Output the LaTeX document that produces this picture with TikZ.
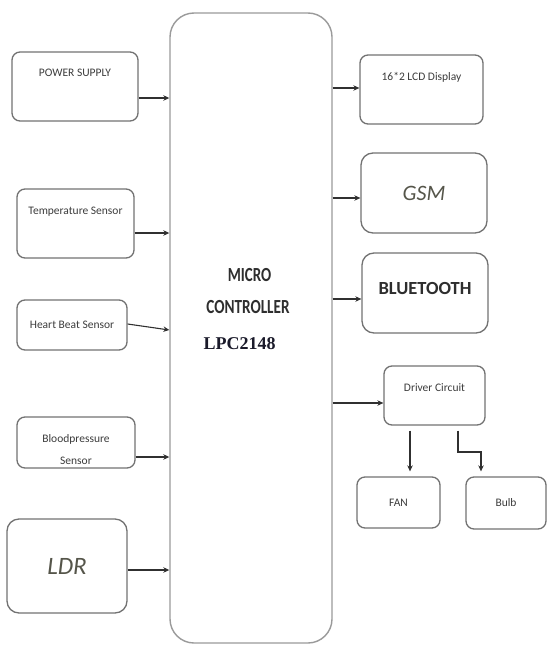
\documentclass[tikz,border=0pt]{standalone}
\usepackage{fontspec}
\usepackage{graphicx}
\setmainfont{Carlito}
\newfontfamily\lpcfont{Liberation Serif}
\usetikzlibrary{arrows.meta}
\definecolor{boxgray}{HTML}{727272}
\definecolor{mcgray}{HTML}{9A9A9A}
\definecolor{linegray}{HTML}{303030}
\definecolor{txtgray}{HTML}{3C3C3C}
\definecolor{darktxt}{HTML}{2E2E2E}
\definecolor{olivegray}{HTML}{55554A}
\definecolor{lpcnavy}{HTML}{1A1A2A}
\begin{document}
\begin{tikzpicture}[x=1pt,y=-1pt,
  box/.style={draw=boxgray, line width=1.3pt, rounded corners=8pt, fill=white,
              inner sep=0pt, text=txtgray, font=\fontsize{11.5}{13}\selectfont},
  bigbox/.style={box, rounded corners=12pt},
  mcbox/.style={draw=mcgray, line width=1.4pt, rounded corners=24pt, fill=white, inner sep=0pt},
  mctext/.style={anchor=base, inner sep=0pt, text=darktxt, font=\fontsize{20}{24}\selectfont\bfseries},
  arr/.style={draw=linegray, line width=1.1pt, -{Stealth[length=6pt,width=5.5pt]}},
]
\useasboundingbox (0,0) rectangle (547,645);

% microcontroller
\node[mcbox, minimum width=162pt, minimum height=630pt] (mc) at (251,328) {};
\node[mctext] (micro) at (249.5,281.5) {\scalebox{0.75}[1]{MICRO}};
\node[mctext] (ctrl) at (248,313) {\scalebox{0.76}[1]{CONTROLLER}};
\node[anchor=base, inner sep=0pt, text=lpcnavy, font=\lpcfont\fontsize{18}{20}\selectfont\bfseries] (lpc) at (239.5,349.5) {LPC2148};

% left inputs
\node[box, minimum width=126pt, text height=24.5pt, text depth=44.5pt] (ps) at (75,86.5) {POWER SUPPLY};
\node[box, minimum width=117pt, text height=25pt, text depth=44pt] (temp) at (75.5,223.5) {Temperature Sensor};
\node[box, minimum width=110pt, minimum height=50pt] (heart) at (72,325) {Heart Beat Sensor};
\node[box, minimum width=118pt, text height=25pt, text depth=26pt] (blood) at (76,442.5)
  {\fontsize{11.5}{22}\selectfont\begin{tabular}[t]{@{}c@{}}Bloodpressure\\Sensor\end{tabular}};
\node[bigbox, minimum width=120pt, minimum height=94pt, text=olivegray,
      font=\fontsize{25}{28}\selectfont\itshape] (ldr) at (67,566) {LDR\hspace{19pt}};

% right outputs
\node[box, minimum width=123pt, text height=25pt, text depth=44pt] (lcd) at (421.5,89.5) {16*2 LCD Display};
\node[bigbox, minimum width=126pt, minimum height=80pt, text=olivegray,
      font=\fontsize{22}{26}\selectfont\itshape] (gsm) at (424,193) {GSM\hspace{16pt}};
\node[bigbox, minimum width=126pt, text height=41pt, text depth=39pt, text=darktxt,
      font=\fontsize{18.5}{22}\selectfont\bfseries] (bt) at (425,293) {BLUETOOTH\hspace{10pt}};
\node[box, minimum width=101pt, text height=25pt, text depth=34pt] (drv) at (434.5,395.5) {Driver Circuit};
\node[box, minimum width=83pt, minimum height=51pt] (fan) at (398.5,502.5) {FAN};
\node[box, minimum width=80pt, minimum height=52pt] (bulb) at (506,503) {Bulb};

% input arrows
\draw[arr] (ps.east |- 0,98) -- (mc.west |- 0,98);
\draw[arr] (temp.east |- 0,233) -- (mc.west |- 0,233);
\draw[arr] (heart.east |- 0,324) -- (mc.west |- 0,330);
\draw[arr] (blood.east |- 0,457) -- (mc.west |- 0,457);
\draw[arr] (ldr.east |- 0,570) -- (mc.west |- 0,570);

% output arrows
\draw[arr] (mc.east |- 0,88) -- (lcd.west |- 0,88);
\draw[arr] (mc.east |- 0,198) -- (gsm.west |- 0,198);
\draw[arr] (mc.east |- 0,299) -- (bt.west |- 0,299);
\draw[arr] (mc.east |- 0,403) -- (drv.west |- 0,403);

% driver to loads
\draw[arr, shorten <=5pt, shorten >=5pt] (drv.south -| 410,0) -- (fan.north -| 410,0);
\draw[arr, shorten <=5pt, shorten >=5pt] (drv.south -| 458,0) -- (458,452) -- (481,452) -- (bulb.north -| 481,0);
\end{tikzpicture}
\end{document}
